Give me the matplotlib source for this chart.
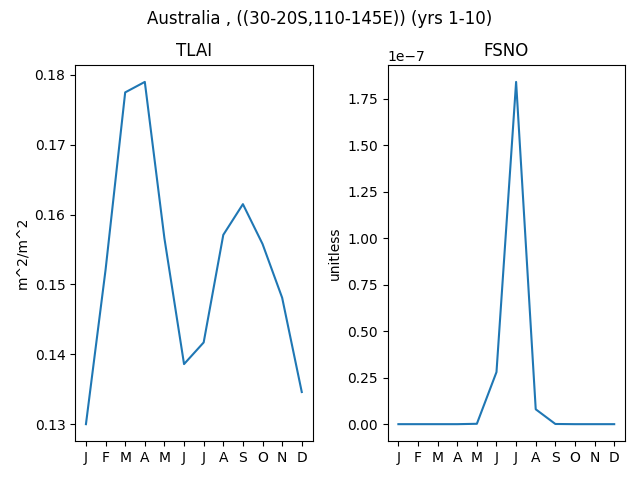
import matplotlib
matplotlib.use("Agg")
import matplotlib.pyplot as plt

months = ["J", "F", "M", "A", "M", "J", "J", "A", "S", "O", "N", "D"]
tlai = [0.1300, 0.1521, 0.1775, 0.1790, 0.1566, 0.1386,
        0.1417, 0.1571, 0.1615, 0.1558, 0.1481, 0.1346]
fsno = [0.0, 0.0, 0.0, 0.0, 0.002e-7, 0.28e-7,
        1.84e-7, 0.08e-7, 0.001e-7, 0.0, 0.0, 0.0]

fig, (ax1, ax2) = plt.subplots(1, 2, figsize=(6.4, 4.8), dpi=100)
x = list(range(len(months)))

ax1.plot(x, tlai)
ax1.set_title("TLAI")
ax1.set_ylabel("m^2/m^2")
ax1.set_xticks(x)
ax1.set_xticklabels(months)

ax2.plot(x, fsno)
ax2.set_title("FSNO")
ax2.set_ylabel("unitless")
ax2.set_xticks(x)
ax2.set_xticklabels(months)

fig.suptitle("Australia , ((30-20S,110-145E)) (yrs 1-10)")
plt.tight_layout()
fig.subplots_adjust(top=0.865)
plt.savefig("out.png")
plt.close()
